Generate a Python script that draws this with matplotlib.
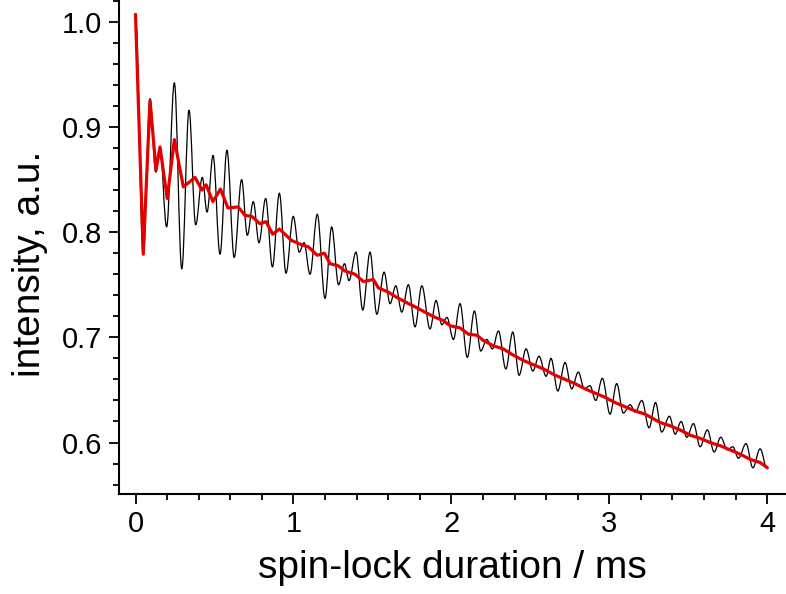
import numpy as np
import matplotlib
matplotlib.use("Agg")
import matplotlib.pyplot as plt
from matplotlib.ticker import MultipleLocator
from matplotlib.path import Path
from matplotlib.patches import PathPatch

# black trace: peaks and troughs
blackTime = [0.000, 0.049, 0.092, 0.128, 0.155, 0.197, 0.246, 0.293, 0.339, 0.381,
             0.423, 0.453, 0.491, 0.535, 0.579, 0.625, 0.672, 0.708, 0.746, 0.782,
             0.824, 0.867, 0.911, 0.953, 0.999, 1.037, 1.067, 1.105, 1.151, 1.200,
             1.242, 1.286, 1.323, 1.352, 1.396, 1.439, 1.485, 1.528, 1.574, 1.612,
             1.648, 1.686, 1.728, 1.770, 1.813, 1.865, 1.903, 1.940, 1.972, 2.013,
             2.055, 2.101, 2.146, 2.186, 2.224, 2.260, 2.298, 2.345, 2.389, 2.429,
             2.473, 2.516, 2.555, 2.600, 2.631, 2.674, 2.720, 2.762, 2.804, 2.842,
             2.878, 2.914, 2.956, 3.005, 3.047, 3.089, 3.132, 3.164, 3.206, 3.252,
             3.293, 3.332, 3.381, 3.417, 3.455, 3.491, 3.533, 3.575, 3.621, 3.664,
             3.706, 3.748, 3.782, 3.818, 3.866, 3.909, 3.955, 3.998]
blackIntensity = [1.005, 0.779, 0.927, 0.857, 0.880, 0.805, 0.942, 0.765, 0.916, 0.807,
                  0.852, 0.819, 0.873, 0.779, 0.878, 0.776, 0.850, 0.797, 0.829, 0.790,
                  0.832, 0.767, 0.837, 0.761, 0.815, 0.781, 0.790, 0.760, 0.817, 0.737,
                  0.805, 0.750, 0.770, 0.754, 0.781, 0.726, 0.781, 0.722, 0.762, 0.732,
                  0.749, 0.724, 0.750, 0.710, 0.749, 0.708, 0.735, 0.712, 0.719, 0.698,
                  0.732, 0.681, 0.725, 0.687, 0.698, 0.689, 0.706, 0.670, 0.705, 0.664,
                  0.689, 0.668, 0.682, 0.663, 0.680, 0.649, 0.676, 0.651, 0.667, 0.651,
                  0.654, 0.640, 0.661, 0.627, 0.656, 0.628, 0.636, 0.629, 0.640, 0.614,
                  0.638, 0.610, 0.625, 0.608, 0.620, 0.605, 0.618, 0.596, 0.612, 0.591,
                  0.605, 0.593, 0.596, 0.585, 0.599, 0.576, 0.594, 0.576]

# red trace
redTime = [0.000, 0.049, 0.092, 0.130, 0.155, 0.201, 0.246, 0.303, 0.377, 0.421,
           0.447, 0.490, 0.538, 0.585, 0.650, 0.693, 0.736, 0.788, 0.826, 0.869,
           0.911, 0.989, 1.052, 1.095, 1.151, 1.196, 1.232, 1.284, 1.327, 1.390,
           1.443, 1.506, 1.538, 1.601, 1.654, 1.717, 1.770, 1.833, 1.897, 1.949,
           1.992, 2.055, 2.108, 2.161, 2.203, 2.266, 2.329, 2.393, 2.456, 2.519,
           2.583, 2.657, 2.720, 2.783, 2.847, 2.910, 2.973, 3.037, 3.100, 3.164,
           3.227, 3.286, 3.322, 3.385, 3.448, 3.512, 3.575, 3.638, 3.702, 3.765,
           3.828, 3.892, 3.955, 4.001]
redIntensity = [1.007, 0.779, 0.925, 0.859, 0.881, 0.832, 0.888, 0.843, 0.852, 0.840,
                0.845, 0.829, 0.841, 0.823, 0.824, 0.816, 0.815, 0.808, 0.810, 0.798,
                0.803, 0.792, 0.788, 0.786, 0.778, 0.780, 0.770, 0.768, 0.763, 0.760,
                0.753, 0.755, 0.747, 0.743, 0.738, 0.733, 0.729, 0.724, 0.719, 0.716,
                0.711, 0.709, 0.703, 0.702, 0.697, 0.692, 0.689, 0.683, 0.678, 0.674,
                0.670, 0.664, 0.660, 0.656, 0.651, 0.647, 0.643, 0.638, 0.634, 0.630,
                0.627, 0.622, 0.619, 0.616, 0.612, 0.607, 0.604, 0.600, 0.597, 0.593,
                0.589, 0.584, 0.581, 0.576]

xTicks = [0, 1, 2, 3, 4]
yTicks = [0.6, 0.7, 0.8, 0.9, 1.0]


def wavePath(t, v):
    # smooth curve through the extrema, flat tangent at each peak/trough
    verts = [(t[0], v[0])]
    codes = [Path.MOVETO]
    for i in range(1, len(t)):
        d = 0.36 * (t[i] - t[i - 1])
        verts += [(t[i - 1] + d, v[i - 1]), (t[i] - d, v[i]), (t[i], v[i])]
        codes += [Path.CURVE4] * 3
    return Path(verts, codes)


def makePlot():
    plt.rcParams['font.family'] = ['Liberation Sans', 'DejaVu Sans']
    fig = plt.figure(figsize=(7.86, 5.94), dpi=100)
    ax = fig.add_axes([0.1514, 0.1684, 0.8486, 0.8316])

    ax.add_patch(PathPatch(wavePath(blackTime, blackIntensity), fill=False,
                           edgecolor='black', lw=0.9))
    ax.plot(redTime, redIntensity, color='#e50000', lw=2.3,
            solid_joinstyle='round', solid_capstyle='round')

    ax.set_xlim(-0.1045, 4.119)
    ax.set_ylim(0.5511, 1.0207)
    ax.set_xticks(xTicks)
    ax.set_xticklabels([str(t) for t in xTicks])
    ax.set_yticks(yTicks)
    ax.set_yticklabels(['%.1f' % t for t in yTicks])
    ax.xaxis.set_minor_locator(MultipleLocator(0.2))
    ax.yaxis.set_minor_locator(MultipleLocator(0.02))

    for s in ['top', 'right']:
        ax.spines[s].set_visible(False)
    for s in ['left', 'bottom']:
        ax.spines[s].set_linewidth(1.5)

    ax.tick_params(which='major', direction='out', length=7.5, width=1.3,
                   labelsize=21)
    ax.tick_params(which='minor', direction='out', length=4, width=1.3)
    ax.tick_params(axis='x', which='major', pad=4)
    ax.tick_params(axis='y', which='major', pad=4.5)

    ax.set_xlabel('spin-lock duration / ms', fontsize=28, labelpad=9)
    ax.set_ylabel('intensity, a.u.', fontsize=28, labelpad=10)
    ax.yaxis.label.set_y(0.466)

    fig.savefig('out.png', dpi=100)


###################  main  ###################
if __name__ == "__main__":
    makePlot()
